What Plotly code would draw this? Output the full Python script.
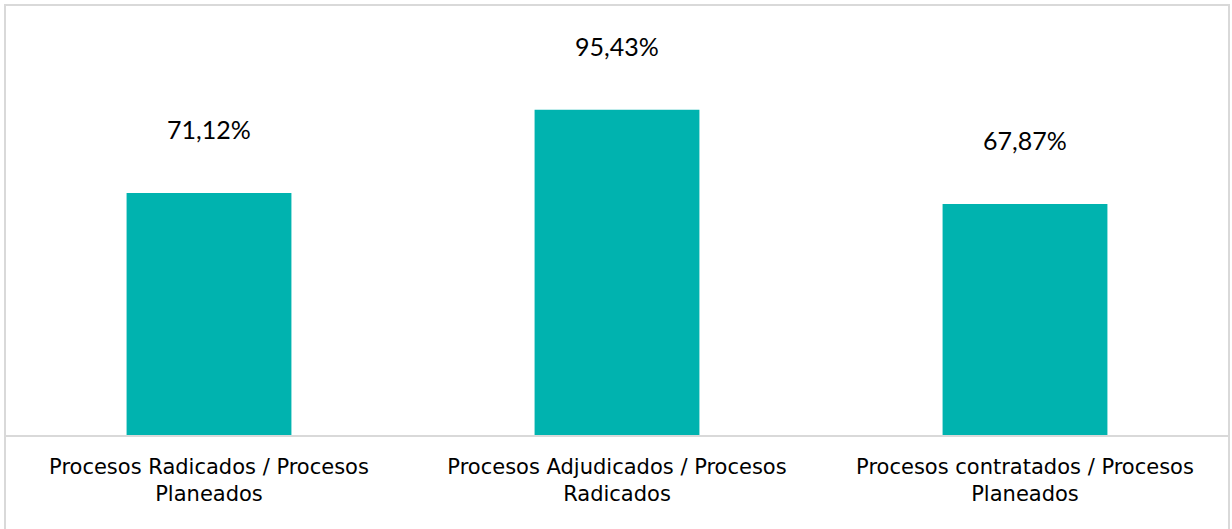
import plotly.graph_objects as go

categories = ["Procesos Radicados / Procesos<br>Planeados",
              "Procesos Adjudicados / Procesos<br>Radicados",
              "Procesos contratados / Procesos<br>Planeados"]
values = [71.12, 95.43, 67.87]
labels = ["71,12%", "95,43%", "67,87%"]

fig = go.Figure()
fig.add_trace(go.Bar(x=categories, y=values, marker=dict(color="#00B3AF", line=dict(width=0)),
                     width=0.404, hoverinfo="skip"))

for c, v, t in zip(categories, values, labels):
    fig.add_annotation(x=c, y=v, text=t, showarrow=False, yanchor="middle", yshift=64,
                       font=dict(family="Lato", size=25, color="#000000"))

fig.update_layout(
    width=1232, height=529,
    margin=dict(l=5, r=3, t=5, b=93),
    paper_bgcolor="white", plot_bgcolor="white",
    showlegend=False,
    xaxis=dict(showgrid=False, showline=False, ticks="", zeroline=False,
               ticklabelstandoff=16,
               tickfont=dict(family="DejaVu Sans", size=21, color="#000000")),
    yaxis=dict(range=[0, 126.1], visible=False, showgrid=False, zeroline=False),
    shapes=[
        dict(type="line", xref="paper", yref="paper", x0=0, x1=1, y0=0, y1=0,
             line=dict(color="#D9D9D9", width=2)),
        dict(type="rect", xref="paper", yref="paper", x0=0, x1=1, y0=-0.3, y1=1,
             line=dict(color="#D9D9D9", width=2), layer="above"),
    ],
)

fig.write_html("out.html", config={"displayModeBar": False},
               post_script="document.body.style.margin='0';")
